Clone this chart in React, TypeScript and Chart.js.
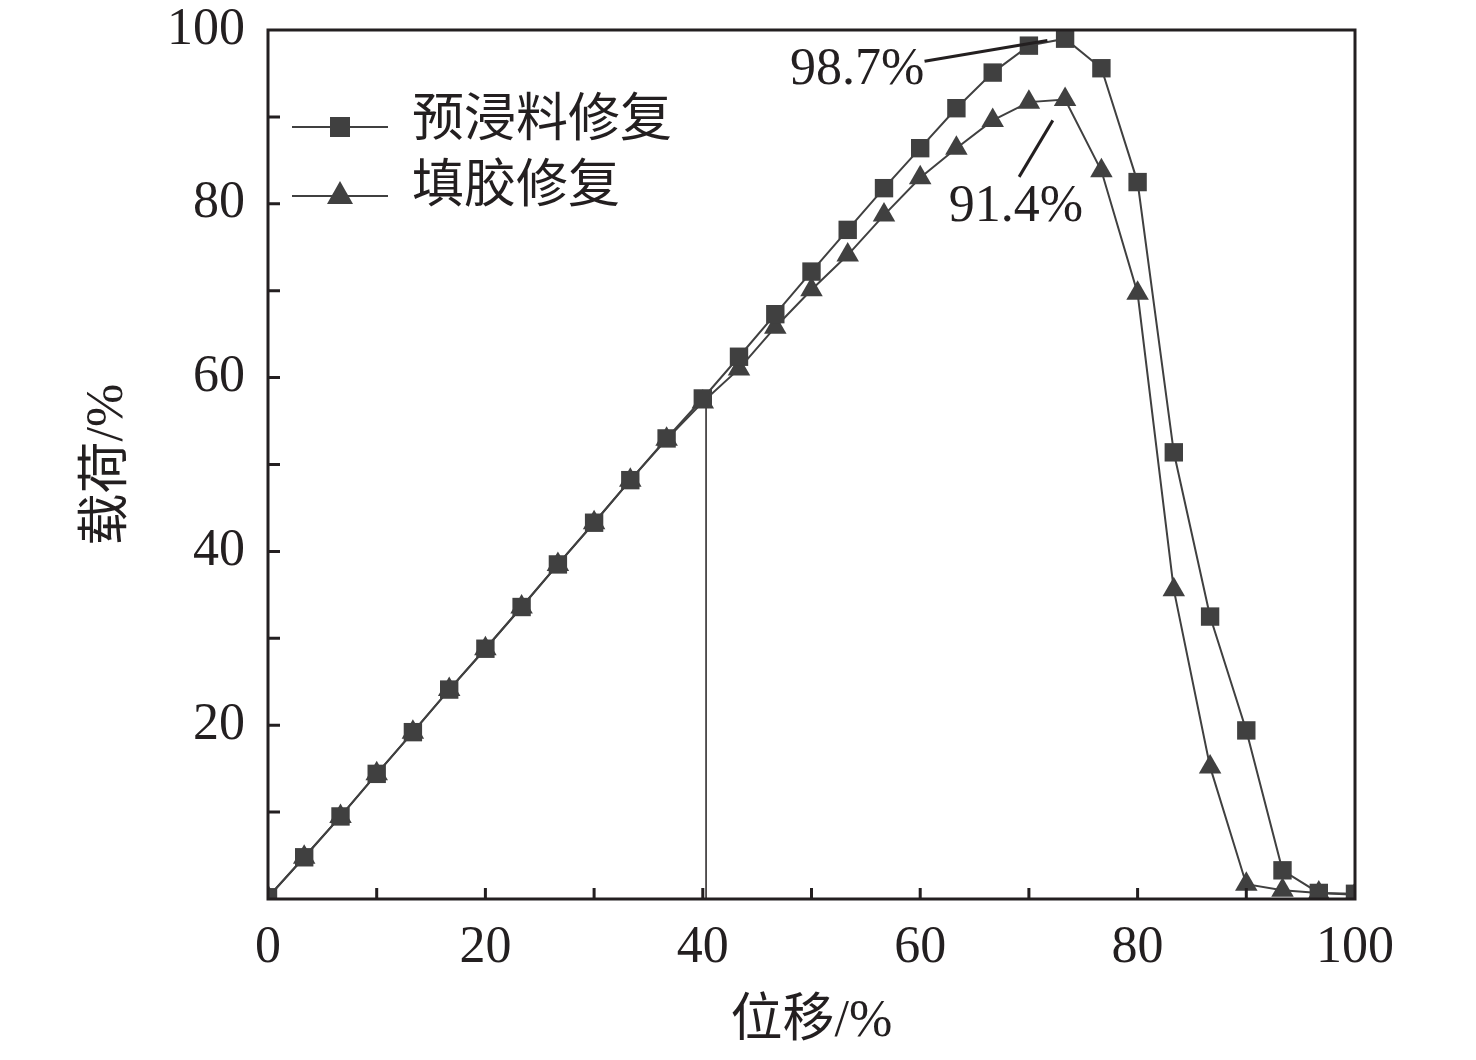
import React, { useEffect, useRef } from "react";
import { Chart, registerables, Plugin } from "chart.js";

Chart.register(...registerables);

// displacement (%) of every sample
const displacement = [
    0, 3.33, 6.67, 10, 13.33, 16.67, 20, 23.33, 26.67, 30, 33.33, 36.67, 40, 43.33, 46.67, 50,
    53.33, 56.67, 60, 63.33, 66.67, 70, 73.33, 76.67, 80, 83.33, 86.67, 90, 93.33, 96.67, 100,
];
// load (%) — 预浸料修复
const prepregLoad = [
    0.2, 4.8, 9.5, 14.4, 19.2, 24.1, 28.8, 33.6, 38.5, 43.3, 48.2, 53.0, 57.6, 62.4, 67.3, 72.2,
    77.0, 81.8, 86.4, 91.0, 95.1, 98.2, 99.0, 95.6, 82.5, 51.4, 32.5, 19.4, 3.3, 0.7, 0.6,
];
// load (%) — 填胶修复
const glueLoad = [
    0.2, 4.8, 9.5, 14.4, 19.2, 24.1, 28.8, 33.6, 38.5, 43.3, 48.2, 52.9, 57.2, 61.0, 65.8, 70.1,
    74.1, 78.7, 83.0, 86.4, 89.6, 91.7, 92.0, 83.8, 69.7, 35.6, 15.2, 1.7, 1.0, 0.7, 0.5,
];
const seriesNames = ["预浸料修复", "填胶修复"];

// vertical reference line
const refLineX = [40.3, 40.3];
const refLineY = [0, 57.0];

// peak labels: text, text position, leader line start / end (data coords)
const peakLabels = ["98.7%", "91.4%"];
const peakLabelPos = [[54.2, 95.3], [68.8, 79.6]];
const leaderFrom = [[60.4, 96.4], [69.1, 83.1]];
const leaderTo = [[71.7, 98.8], [72.2, 89.6]];

const xTitle = "位移/%";
const yTitle = "载荷/%";

const INK = "#231f20";
const MARK = "#404040";
const FONT = "'Liberation Serif', 'Noto Sans CJK SC', serif";

const toPoints = (ys: number[]) => ys.map((y, i) => ({ x: displacement[i], y }));

const frame: Plugin<"line"> = {
    id: "frame",
    afterDatasetsDraw(chart) {
        const { ctx, chartArea: a, scales } = chart;
        const xs = scales.x;
        const ys = scales.y;
        ctx.save();
        ctx.strokeStyle = INK;
        ctx.lineWidth = 3;
        ctx.strokeRect(a.left, a.top, a.right - a.left, a.bottom - a.top);
        ctx.beginPath();
        for (let v = 10; v < 100; v += 10) {
            const px = xs.getPixelForValue(v);
            ctx.moveTo(px, a.bottom);
            ctx.lineTo(px, a.bottom - 11);
            const py = ys.getPixelForValue(v);
            ctx.moveTo(a.left, py);
            ctx.lineTo(a.left + 12, py);
        }
        ctx.stroke();

        // peak labels
        ctx.fillStyle = INK;
        ctx.font = `52px ${FONT}`;
        ctx.textAlign = "center";
        ctx.textBaseline = "middle";
        ctx.lineWidth = 3;
        peakLabels.forEach((t, i) => {
            ctx.fillText(t, xs.getPixelForValue(peakLabelPos[i][0]), ys.getPixelForValue(peakLabelPos[i][1]));
            ctx.beginPath();
            ctx.moveTo(xs.getPixelForValue(leaderFrom[i][0]), ys.getPixelForValue(leaderFrom[i][1]));
            ctx.lineTo(xs.getPixelForValue(leaderTo[i][0]), ys.getPixelForValue(leaderTo[i][1]));
            ctx.stroke();
        });

        // axis titles
        ctx.fillText(xTitle, (a.left + a.right) / 2, 1022);
        ctx.save();
        ctx.translate(108, (a.top + a.bottom) / 2);
        ctx.rotate(-Math.PI / 2);
        ctx.fillText(yTitle, 0, 0);
        ctx.restore();

        // legend
        const rows = [127, 196];
        rows.forEach((ly, i) => {
            ctx.strokeStyle = MARK;
            ctx.lineWidth = 2;
            ctx.beginPath();
            ctx.moveTo(a.left + 24, ly);
            ctx.lineTo(a.left + 120, ly);
            ctx.stroke();
            ctx.fillStyle = MARK;
            const cx = a.left + 72;
            if (i === 0) {
                ctx.fillRect(cx - 10, ly - 10, 20, 20);
            } else {
                ctx.beginPath();
                ctx.moveTo(cx, ly - 15);
                ctx.lineTo(cx + 13, ly + 8);
                ctx.lineTo(cx - 13, ly + 8);
                ctx.closePath();
                ctx.fill();
            }
            ctx.fillStyle = INK;
            ctx.textAlign = "left";
            ctx.fillText(seriesNames[i], a.left + 144, ly - 5 - i * 3);
        });
        ctx.restore();
    },
};

const App = () => {
    const canvasRef = useRef<HTMLCanvasElement | null>(null);
    const chartRef = useRef<Chart | null>(null);

    useEffect(() => {
        if (chartRef.current) {
            chartRef.current.destroy();
        }
        const ctx = canvasRef.current?.getContext("2d");
        if (!ctx) return;
        chartRef.current = new Chart(ctx, {
            type: "line",
            data: {
                datasets: [
                    {
                        label: seriesNames[0],
                        data: toPoints(prepregLoad),
                        borderColor: MARK,
                        backgroundColor: MARK,
                        borderWidth: 2,
                        pointStyle: "rect",
                        pointRadius: 13,
                        pointBorderWidth: 0,
                    },
                    {
                        label: seriesNames[1],
                        data: toPoints(glueLoad),
                        borderColor: MARK,
                        backgroundColor: MARK,
                        borderWidth: 2,
                        pointStyle: "triangle",
                        pointRadius: 13,
                        pointBorderWidth: 0,
                    },
                    {
                        label: "ref",
                        data: refLineX.map((x, i) => ({ x, y: refLineY[i] })),
                        borderColor: INK,
                        borderWidth: 1.5,
                        pointRadius: 0,
                    },
                ],
            },
            options: {
                animation: false,
                responsive: true,
                maintainAspectRatio: false,
                layout: { padding: { top: 30, right: 121, left: 0, bottom: 0 } },
                plugins: { legend: { display: false }, tooltip: { enabled: false } },
                scales: {
                    x: {
                        type: "linear",
                        min: 0,
                        max: 100,
                        grid: { display: false, drawTicks: false },
                        border: { display: false },
                        ticks: {
                            stepSize: 20,
                            padding: 18,
                            color: INK,
                            font: { family: FONT, size: 52 },
                            maxRotation: 0,
                        },
                        afterFit: (s: any) => {
                            s.height = 161;
                            s.paddingLeft = 0;
                            s.paddingRight = 0;
                        },
                    },
                    y: {
                        type: "linear",
                        min: 0,
                        max: 100,
                        grid: { display: false, drawTicks: false },
                        border: { display: false },
                        ticks: {
                            stepSize: 20,
                            padding: 23,
                            color: INK,
                            font: { family: FONT, size: 52 },
                            callback: (v) => (v === 0 ? "" : String(v)),
                        },
                        afterFit: (s: any) => {
                            s.width = 268;
                            s.paddingTop = 0;
                            s.paddingBottom = 0;
                        },
                    },
                },
            },
            plugins: [frame],
        });
        return () => {
            if (chartRef.current) {
                chartRef.current.destroy();
                chartRef.current = null;
            }
        };
    }, []);

    return (
        <div style={{ position: "absolute", left: 0, top: 0, width: 1476, height: 1060, background: "#fff" }}>
            <canvas ref={canvasRef} />
        </div>
    );
};

export default App;
